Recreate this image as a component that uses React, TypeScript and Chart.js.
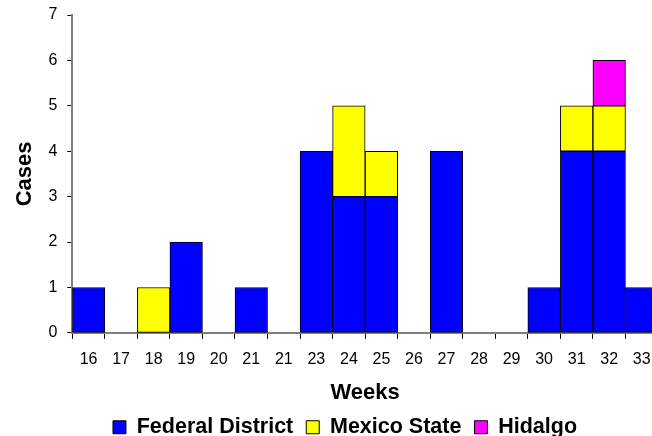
import React, { useEffect, useRef } from "react";
import { Chart, registerables } from "chart.js";

Chart.register(...registerables);

const weeks = ["16", "17", "18", "19", "20", "21", "21", "23", "24", "25", "26", "27", "28", "29", "30", "31", "32", "33"];
const federalDistrict = [1, 0, 0, 2, 0, 1, 0, 4, 3, 3, 0, 4, 0, 0, 1, 4, 4, 1];
const mexicoState = [0, 0, 1, 0, 0, 0, 0, 0, 2, 1, 0, 0, 0, 0, 0, 1, 1, 0];
const hidalgo = [0, 0, 0, 0, 0, 0, 0, 0, 0, 0, 0, 0, 0, 0, 0, 0, 1, 0];
const yTicks = [0, 1, 2, 3, 4, 5, 6, 7];

const FONT = "'Liberation Sans', Arial, sans-serif";

const legendShift = {
  id: "legendShift",
  afterLayout(chart: any) {
    const lg = chart.legend;
    if (lg) {
      lg.left += 10;
      lg.right += 10;
    }
  },
};

export default function App() {
  const ref = useRef<HTMLCanvasElement>(null);
  useEffect(() => {
    if (!ref.current) return;
    const nz = (a: number[]) => a.map((v) => (v ? v : null));
    const common = { borderColor: "#000000", borderWidth: 1, borderSkipped: false, categoryPercentage: 1, barPercentage: 1 };
    const chart = new Chart(ref.current, {
      type: "bar",
      data: {
        labels: weeks,
        datasets: [
          { label: "Federal District", data: nz(federalDistrict), backgroundColor: "#0000ff", ...common },
          { label: "Mexico State", data: nz(mexicoState), backgroundColor: "#ffff00", ...common },
          { label: "Hidalgo", data: nz(hidalgo), backgroundColor: "#ff00ff", ...common },
        ],
      },
      plugins: [legendShift],
      options: {
        responsive: false,
        animation: false,
        layout: { padding: { left: 12, right: 4, top: 15, bottom: -12 } },
        plugins: {
          tooltip: { enabled: false },
          legend: {
            position: "bottom",
            labels: {
              boxWidth: 13,
              boxHeight: 13,
              padding: 13,
              color: "#000",
              font: { family: FONT, size: 21.5, weight: "bold" },
            },
          },
        },
        scales: {
          x: {
            stacked: true,
            grid: { offset: true, drawOnChartArea: false, drawTicks: true, tickLength: 6, color: "#000" },
            border: { color: "#808080", width: 2 },
            ticks: { color: "#000", font: { family: FONT, size: 16 }, padding: 11, maxRotation: 0, autoSkip: false },
            title: { display: true, text: "Weeks", color: "#000", font: { family: FONT, size: 22, weight: "bold" }, padding: { top: 0, bottom: -3 } },
          },
          y: {
            stacked: true,
            min: 0,
            max: 7,
            afterBuildTicks: (axis: any) => {
              axis.ticks = yTicks.map((v) => ({ value: v }));
            },
            afterFit: (axis: any) => {
              axis.paddingTop = 0;
            },
            grid: { drawOnChartArea: false, drawTicks: true, tickLength: 5, color: "#000" },
            border: { color: "#808080", width: 2 },
            ticks: { color: "#000", font: { family: FONT, size: 16 }, padding: 10 },
            title: { display: true, text: "Cases", color: "#000", font: { family: FONT, size: 22, weight: "bold" }, padding: { top: 0, bottom: 0 } },
          },
        },
      } as any,
    });
    return () => chart.destroy();
  }, []);
  return (
    <div style={{ position: "fixed", left: 0, top: 0, width: 652, height: 436, overflow: "hidden", background: "#fff" }}>
      <canvas ref={ref} width={662} height={436} style={{ display: "block" }} />
    </div>
  );
}
